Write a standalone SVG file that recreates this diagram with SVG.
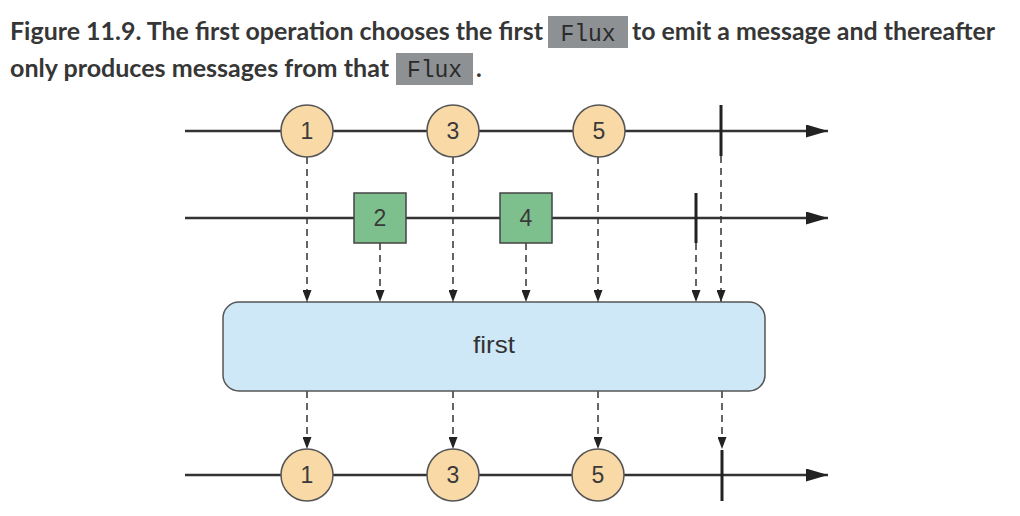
<svg xmlns="http://www.w3.org/2000/svg" width="1020" height="516" viewBox="0 0 1020 516">
<style>
.title{font-family:Lato,"Liberation Sans",sans-serif;font-weight:bold;font-size:24px;fill:#363636}
.mono{font-family:"Liberation Mono","DejaVu Sans Mono",monospace;font-size:23px;fill:#2a2a2a}
.code{fill:#8e9194}
.tl{stroke:#333;stroke-width:2.5;fill:none}
.dash{stroke:#333;stroke-width:1.5;stroke-dasharray:7 5;fill:none}
.tick{stroke:#222;stroke-width:3}
.circ{fill:#f9d9a6;stroke:#555;stroke-width:1.5}
.sq{fill:#7dbf8d;stroke:#444;stroke-width:1.5}
.op{fill:#cfe8f8;stroke:#555;stroke-width:1.5}
.lbl{font-family:"Liberation Sans",Arial,sans-serif;font-size:23px;fill:#3a3a3a;text-anchor:middle}
.oplbl{font-family:"Liberation Sans",Arial,sans-serif;font-size:24px;fill:#333;text-anchor:middle}
</style>
<defs>
<marker id="big" viewBox="0 0 22 13" refX="22" refY="6.5" markerWidth="22" markerHeight="13" markerUnits="userSpaceOnUse" orient="auto"><path d="M0,0 L22,6.5 L0,13 Z" fill="#222"/></marker>
<marker id="dart" viewBox="0 0 12 9" refX="12" refY="4.5" markerWidth="12" markerHeight="9" markerUnits="userSpaceOnUse" orient="auto"><path d="M0,0 L12,4.5 L0,9 Z" fill="#222"/></marker>
</defs>
<rect width="1020" height="516" fill="#fff"/>
<g id="caption">
<text class="title" x="10" y="40" textLength="533" lengthAdjust="spacingAndGlyphs">Figure 11.9. The first operation chooses the first</text>
<rect class="code" x="548" y="16" width="80" height="32"/>
<text class="mono" x="588" y="41" text-anchor="middle">Flux</text>
<text class="title" x="632" y="40" textLength="363" lengthAdjust="spacingAndGlyphs">to emit a message and thereafter</text>
<text class="title" x="10" y="77" textLength="379" lengthAdjust="spacingAndGlyphs">only produces messages from that</text>
<rect class="code" x="396" y="53" width="77" height="32"/>
<text class="mono" x="434.5" y="77" text-anchor="middle">Flux</text>
<text class="title" x="476" y="77">.</text>
</g>
<g id="connectors">
<line class="tl" x1="185" y1="131" x2="828" y2="131" marker-end="url(#big)"/>
<line class="tl" x1="185" y1="218" x2="828" y2="218" marker-end="url(#big)"/>
<line class="tl" x1="185" y1="475" x2="828" y2="475" marker-end="url(#big)"/>
<line class="dash" x1="307" y1="157" x2="307" y2="302" marker-end="url(#dart)"/>
<line class="dash" x1="380" y1="243" x2="380" y2="302" marker-end="url(#dart)"/>
<line class="dash" x1="453" y1="157" x2="453" y2="302" marker-end="url(#dart)"/>
<line class="dash" x1="526" y1="243" x2="526" y2="302" marker-end="url(#dart)"/>
<line class="dash" x1="598" y1="157" x2="598" y2="302" marker-end="url(#dart)"/>
<line class="dash" x1="696" y1="243" x2="696" y2="302" marker-end="url(#dart)"/>
<line class="dash" x1="721" y1="156" x2="721" y2="302" marker-end="url(#dart)"/>
<line class="dash" x1="307" y1="391" x2="307" y2="449" marker-end="url(#dart)"/>
<line class="dash" x1="453" y1="391" x2="453" y2="449" marker-end="url(#dart)"/>
<line class="dash" x1="598" y1="391" x2="598" y2="449" marker-end="url(#dart)"/>
<line class="dash" x1="722" y1="391" x2="722" y2="449" marker-end="url(#dart)"/>
</g>
<g id="src1-1"><circle class="circ" cx="307" cy="131" r="26"/><text class="lbl" x="307" y="139">1</text></g>
<g id="src1-3"><circle class="circ" cx="453" cy="131" r="26"/><text class="lbl" x="453" y="139">3</text></g>
<g id="src1-5"><circle class="circ" cx="599" cy="131" r="26"/><text class="lbl" x="599" y="139">5</text></g>
<g id="src1-end"><line class="tick" x1="721" y1="105" x2="721" y2="156"/></g>
<g id="src2-2"><rect class="sq" x="354" y="193" width="52" height="50"/><text class="lbl" x="380" y="226">2</text></g>
<g id="src2-4"><rect class="sq" x="500" y="193" width="52" height="50"/><text class="lbl" x="526" y="226">4</text></g>
<g id="src2-end"><line class="tick" x1="696" y1="193" x2="696" y2="243"/></g>
<g id="first"><rect class="op" x="223" y="302" width="542" height="89" rx="16"/><text class="oplbl" x="494" y="353" textLength="42" lengthAdjust="spacingAndGlyphs">first</text></g>
<g id="out-1"><circle class="circ" cx="307" cy="475" r="26"/><text class="lbl" x="307" y="483">1</text></g>
<g id="out-3"><circle class="circ" cx="453" cy="475" r="26"/><text class="lbl" x="453" y="483">3</text></g>
<g id="out-5"><circle class="circ" cx="598" cy="475" r="26"/><text class="lbl" x="598" y="483">5</text></g>
<g id="out-end"><line class="tick" x1="722" y1="450" x2="722" y2="501"/></g>
</svg>
